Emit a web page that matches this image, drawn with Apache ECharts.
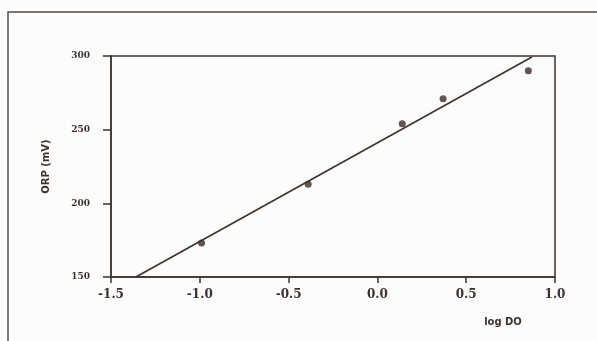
<!DOCTYPE html>
<html>
<head>
<meta charset="utf-8">
<script src="https://cdn.jsdelivr.net/npm/echarts@6/dist/echarts.min.js"></script>
<style>
  html, body { margin: 0; padding: 0; background: #fdfcfc; }
  #chart { width: 597px; height: 341px; }
</style>
</head>
<body>
<div id="chart"></div>
<script>
// measured points: log DO vs ORP (mV)
const logDO = [-0.99, -0.39, 0.14, 0.37, 0.85];
const orp = [173, 213, 254, 271, 290];
// fitted line end points
const fitX = [-1.36, 0.87];
const fitY = [150, 299.3];

const ink = "#3e322d";

const chart = echarts.init(document.getElementById("chart"), null, { renderer: "canvas" });

const option = {
  backgroundColor: "#fdfcfc",
  animation: false,
  grid: {
    left: 111,
    right: 42,
    top: 56,
    bottom: 64,
    show: true,
    borderColor: ink,
    borderWidth: 1.5,
  },
  xAxis: {
    type: "value",
    min: -1.5,
    max: 1.0,
    interval: 0.5,
    name: "log DO",
    nameLocation: "middle",
    nameGap: 40,
    nameTextStyle: {
      color: ink,
      fontFamily: "DejaVu Sans",
      fontWeight: "bold",
      fontSize: 10,
      padding: [0, 0, 0, 340],
    },
    axisLine: { onZero: false, lineStyle: { color: ink, width: 1.5 } },
    axisTick: { show: true, length: 6, lineStyle: { color: ink, width: 1.5 } },
    splitLine: { show: false },
    axisLabel: {
      color: ink,
      fontFamily: "DejaVu Serif",
      fontWeight: "bold",
      fontSize: 12,
      margin: 12,
      formatter: (v) => v.toFixed(1),
    },
  },
  yAxis: {
    type: "value",
    min: 150,
    max: 300,
    interval: 50,
    name: "ORP (mV)",
    nameLocation: "middle",
    nameGap: 60,
    nameTextStyle: {
      color: ink,
      fontFamily: "DejaVu Sans",
      fontWeight: "bold",
      fontSize: 10,
    },
    axisLine: { show: true, onZero: false, lineStyle: { color: ink, width: 1.5 } },
    axisTick: { show: true, length: 8, lineStyle: { color: ink, width: 1.5 } },
    splitLine: { show: false },
    axisLabel: {
      color: ink,
      fontFamily: "DejaVu Serif",
      fontWeight: "bold",
      fontSize: 9,
      margin: 21,
    },
  },
  graphic: [
    {
      type: "rect",
      shape: { x: 8, y: 12, width: 700, height: 400 },
      style: { fill: "none", stroke: "#5a4a44", lineWidth: 1.5 },
      silent: true,
    },
  ],
  series: [
    {
      name: "fit",
      type: "line",
      data: fitX.map((x, i) => [x, fitY[i]]),
      showSymbol: false,
      lineStyle: { color: ink, width: 1.6 },
    },
    {
      name: "ORP",
      type: "scatter",
      data: logDO.map((x, i) => [x, orp[i]]),
      symbol: "circle",
      symbolSize: 7,
      itemStyle: { color: "#3a2c26" },
    },
  ],
};

chart.setOption(option);
</script>
</body>
</html>
